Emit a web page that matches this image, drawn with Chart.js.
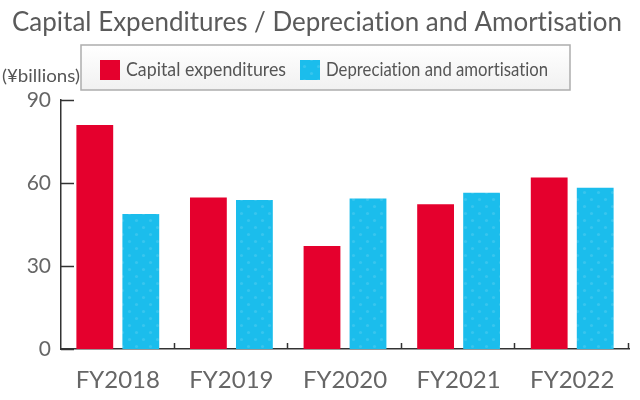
<!DOCTYPE html>
<html>
<head>
<meta charset="utf-8">
<script src="https://cdn.jsdelivr.net/npm/chart.js@4.4.0/dist/chart.umd.min.js"></script>
<style>
html,body{margin:0;padding:0;background:#fff;}
#wrap{width:640px;height:400px;position:relative;}
</style>
</head>
<body>
<div id="wrap"><canvas id="c" width="640" height="400"></canvas></div>
<script>
const categories = ['FY2018','FY2019','FY2020','FY2021','FY2022'];
const capexValues = [81, 54.8, 37.2, 52.3, 62];
const daValues = [48.8, 53.9, 54.4, 56.5, 58.3];
const yTicks = [0, 30, 60, 90];
const seriesNames = ['Capital expenditures', 'Depreciation and amortisation'];
const titleText = 'Capital Expenditures / Depreciation and Amortisation';
const unitText = '(¥billions)';

const RED = '#E5002D';
const CYAN = '#1BBDEC';
const FONT = 'Lato, "Noto Sans", sans-serif';

function dotPattern(base){
  const p = document.createElement('canvas');
  p.width = 14; p.height = 14;
  const g = p.getContext('2d');
  g.fillStyle = base; g.fillRect(0,0,14,14);
  g.fillStyle = 'rgba(255,255,255,0.13)';
  [[3.5,3.5],[10.5,10.5]].forEach(([x,y])=>{g.beginPath();g.arc(x,y,1.6,0,Math.PI*2);g.fill();});
  return document.getElementById('c').getContext('2d').createPattern(p,'repeat');
}
const cyanPat = dotPattern(CYAN);

function fitText(ctx, text, x, y, width, font, color, align){
  ctx.save();
  ctx.font = font;
  ctx.fillStyle = color;
  ctx.textBaseline = 'middle';
  if ('letterSpacing' in ctx) ctx.letterSpacing = '0.01px';
  const w = ctx.measureText(text).width;
  const s = width / w;
  ctx.translate(x, y);
  ctx.scale(s, 1);
  ctx.textAlign = align || 'left';
  ctx.fillText(text, 0, 0);
  ctx.restore();
}

const decor = {
  id: 'decor',
  afterDraw(chart){
    const ctx = chart.ctx;
    const ca = chart.chartArea;
    const xs = chart.scales.x, ys = chart.scales.y;
    // title
    fitText(ctx, titleText, 12, 22, 610, '27px ' + FONT, '#5a5a5a');
    // legend box
    ctx.save();
    const g = ctx.createLinearGradient(0,45,0,90);
    g.addColorStop(0,'#ffffff'); g.addColorStop(1,'#f1f1f1');
    ctx.fillStyle = g;
    ctx.fillRect(81,45,489,45);
    ctx.strokeStyle = '#adadad'; ctx.lineWidth = 1.5;
    ctx.strokeRect(81,45,489,45);
    ctx.fillStyle = RED; ctx.fillRect(100,60,20,20);
    ctx.fillStyle = cyanPat; ctx.fillRect(300,60,20,20);
    ctx.restore();
    fitText(ctx, chart.data.datasets[0].label, 126, 70, 160, '19px ' + FONT, '#555555');
    fitText(ctx, chart.data.datasets[1].label, 326, 70, 222, '19px ' + FONT, '#555555');
    // unit label
    fitText(ctx, unitText, 2, 77, 78, '17px ' + FONT, '#555555');
    // inner ticks
    ctx.save();
    ctx.strokeStyle = '#333333'; ctx.lineWidth = 1.5;
    yTicks.forEach(v => {
      const py = Math.round(ys.getPixelForValue(v)) + 0.5;
      ctx.beginPath(); ctx.moveTo(ca.left, py); ctx.lineTo(ca.left + 13, py); ctx.stroke();
    });
    for (let i = 1; i <= categories.length; i++){
      const px = i < categories.length
        ? (xs.getPixelForTick(i-1) + xs.getPixelForTick(i)) / 2
        : ca.right;
      const rx = Math.round(px) - 0.5;
      ctx.beginPath(); ctx.moveTo(rx, ca.bottom); ctx.lineTo(rx, ca.bottom - 6); ctx.stroke();
    }
    ctx.restore();
  }
};

new Chart(document.getElementById('c'), {
  type: 'bar',
  data: {
    labels: categories,
    datasets: [
      { label: seriesNames[0], data: capexValues, backgroundColor: RED, borderWidth: 0 },
      { label: seriesNames[1], data: daValues, backgroundColor: cyanPat, borderWidth: 0 }
    ]
  },
  options: {
    responsive: false,
    animation: false,
    devicePixelRatio: 1,
    layout: { padding: { top: 100, right: 11, left: 0, bottom: 0 } },
    datasets: { bar: { categoryPercentage: 0.81, barPercentage: 0.8 } },
    plugins: { legend: { display: false }, title: { display: false }, tooltip: { enabled: false } },
    scales: {
      x: {
        grid: { display: false, drawTicks: false },
        border: { display: true, color: '#333333', width: 1.5 },
        ticks: { color: '#666666', font: { family: FONT, size: 24 }, padding: 17 },
        afterFit(s){ s.height = 51; }
      },
      y: {
        min: 0, max: 90,
        afterBuildTicks(s){ s.ticks = yTicks.map(v => ({ value: v })); },
        grid: { display: false, drawTicks: false },
        border: { display: true, color: '#333333', width: 1.5 },
        ticks: { color: '#666666', font: { family: FONT, size: 21 }, padding: 10 },
        afterFit(s){ s.width = 61; }
      }
    }
  },
  plugins: [decor]
});
</script>
</body>
</html>
